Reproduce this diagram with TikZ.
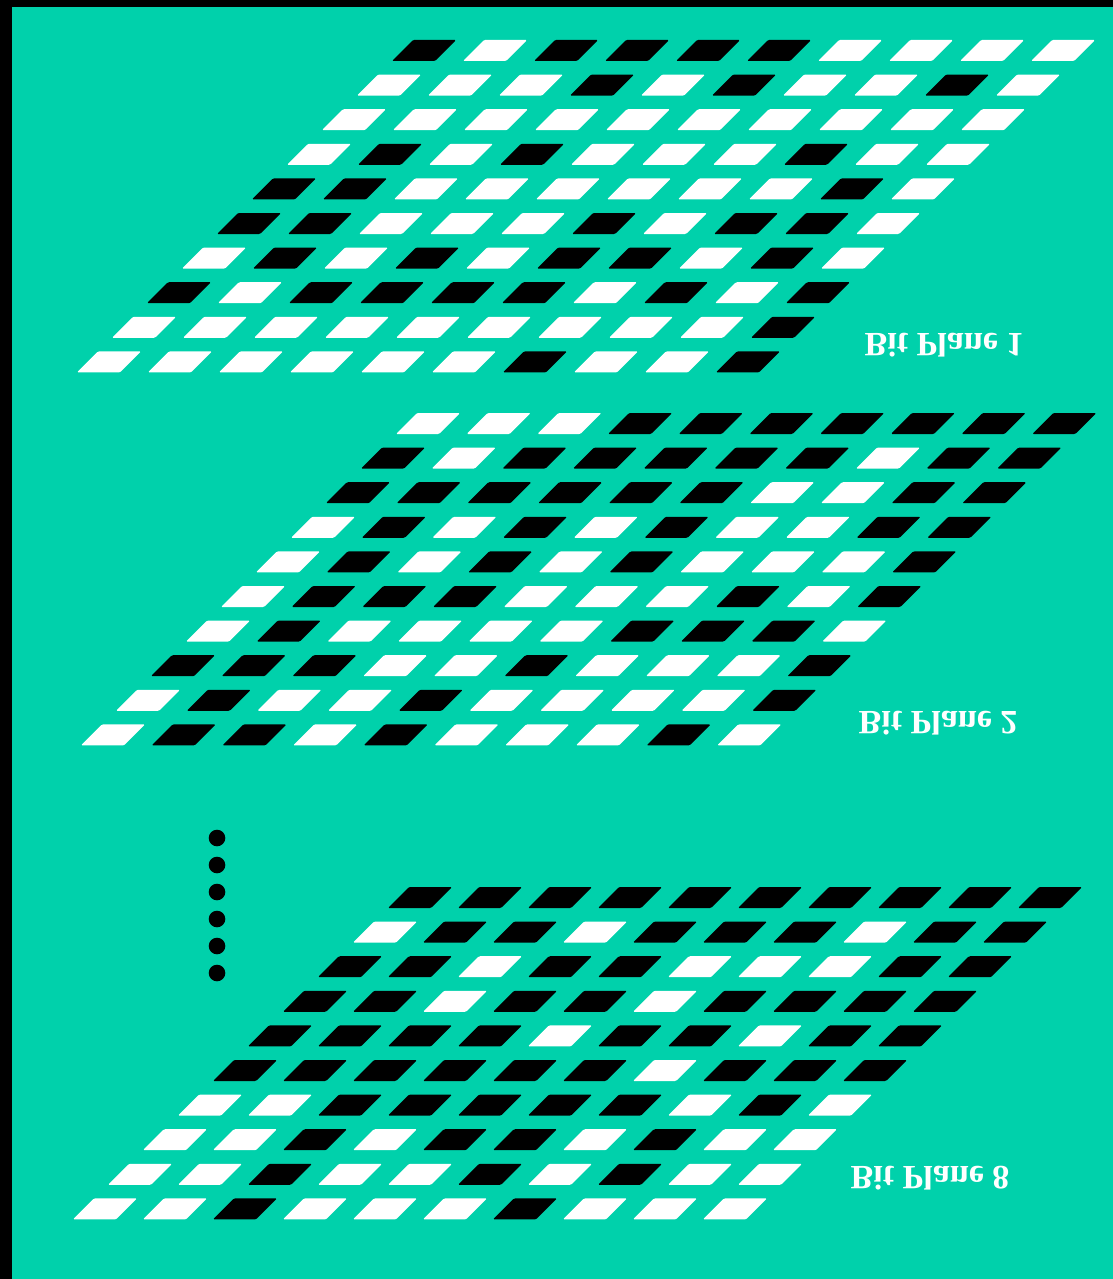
\documentclass[tikz,border=0pt]{standalone}
\usepackage{fontspec}
\setmainfont{Liberation Serif}
\usetikzlibrary{positioning}

\definecolor{planegreen}{RGB}{0,209,171}

% one 10x10 bit plane: #1,#2 = lower left corner of the first cell, #3 = column pitch, #4 = rows (1 = black)
\newcommand{\bitplane}[4]{
  \foreach \bits [count=\r from 0] in {#4} {
    \foreach \b [count=\c from 0] in \bits {
      \path[bit\b] ({#1+#3*\c-35*\r},{#2+34.6*\r}) -- ++(43,0) -- ++(21,-21) -- ++(-43,0) -- cycle;
    }
  }
}

\begin{document}
\begin{tikzpicture}[
        x=1pt, y=-1pt, % pixel units, y going down
        bit0/.style={fill=white, rounded corners=1.2pt},
        bit1/.style={fill=black, rounded corners=1.2pt},
        planelabel/.style={yscale=-1, inner sep=0pt, text=white, font=\fontsize{34}{40}\selectfont\bfseries},
        dot/.style={circle, fill=black, inner sep=0pt, minimum size=16.6pt}
    ]

    % Background
    \useasboundingbox (0,0) rectangle (1113,1279);
    \fill[black] (0,0) rectangle (1113,1279);
    \fill[planegreen] (12,7) rectangle (1113,1279);

    % Planes
    \bitplane{392}{61}{71}{
        {1,0,1,1,1,1,0,0,0,0},
        {0,0,0,1,0,1,0,0,1,0},
        {0,0,0,0,0,0,0,0,0,0},
        {0,1,0,1,0,0,0,1,0,0},
        {1,1,0,0,0,0,0,0,1,0},
        {1,1,0,0,0,1,0,1,1,0},
        {0,1,0,1,0,1,1,0,1,0},
        {1,0,1,1,1,1,0,1,0,1},
        {0,0,0,0,0,0,0,0,0,1},
        {0,0,0,0,0,0,1,0,0,1}}
    \bitplane{396}{434}{70.7}{
        {0,0,0,1,1,1,1,1,1,1},
        {1,0,1,1,1,1,1,0,1,1},
        {1,1,1,1,1,1,0,0,1,1},
        {0,1,0,1,0,1,0,0,1,1},
        {0,1,0,1,0,1,0,0,0,1},
        {0,1,1,1,0,0,0,1,0,1},
        {0,1,0,0,0,0,1,1,1,0},
        {1,1,1,0,0,1,0,0,0,1},
        {0,1,0,0,1,0,0,0,0,1},
        {0,1,1,0,1,0,0,0,1,0}}
    \bitplane{388}{908}{70}{
        {1,1,1,1,1,1,1,1,1,1},
        {0,1,1,0,1,1,1,0,1,1},
        {1,1,0,1,1,0,0,0,1,1},
        {1,1,0,1,1,0,1,1,1,1},
        {1,1,1,1,0,1,1,0,1,1},
        {1,1,1,1,1,1,0,1,1,1},
        {0,0,1,1,1,1,1,0,1,0},
        {0,0,1,0,1,1,0,1,0,0},
        {0,0,1,0,0,1,0,1,0,0},
        {0,0,1,0,0,0,1,0,0,0}}

    % Nodes
    \node[planelabel] (lbl1) at (944,345) {Bit Plane 1};
    \node[planelabel] (lbl2) at (938,723) {Bit Plane 2};
    \node[planelabel] (lbl8) at (930,1178) {Bit Plane 8};

    \node[dot] (dot1) at (217,838) {};
    \node[dot, below=10pt of dot1] (dot2) {};
    \node[dot, below=10pt of dot2] (dot3) {};
    \node[dot, below=10pt of dot3] (dot4) {};
    \node[dot, below=10pt of dot4] (dot5) {};
    \node[dot, below=10pt of dot5] (dot6) {};

\end{tikzpicture}
\end{document}
